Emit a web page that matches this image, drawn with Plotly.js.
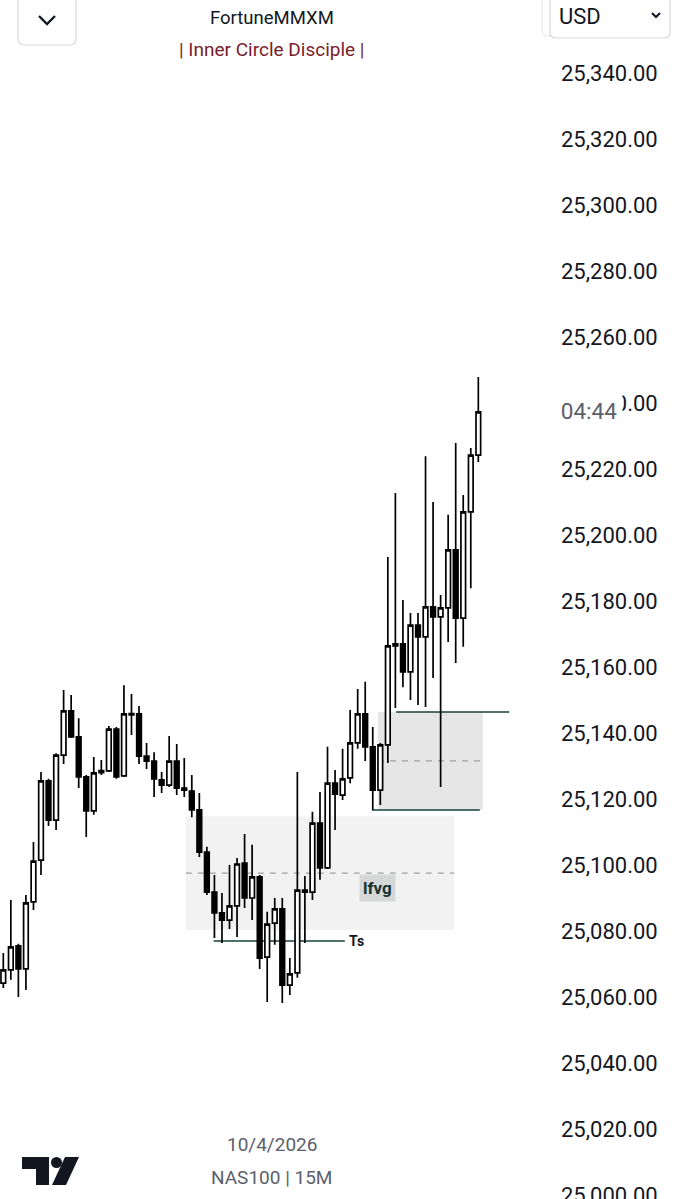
<!DOCTYPE html>
<html>
<head>
<meta charset="utf-8">
<script src="https://cdn.plot.ly/plotly-3.0.1.min.js"></script>
<style>
  html, body { margin: 0; padding: 0; background: #ffffff; }
  #chart { width: 676px; height: 1199px; }
</style>
</head>
<body>
<div id="chart"></div>
<script>
// ---- NAS100 15M candles ----
const openPrices = [
  25064.2, 25068.2, 25075.5, 25068.5, 25088.8, 25101.5, 25125.5, 25113.6, 25133.3, 25146.7,
  25138.8, 25126.7, 25116.4, 25128.0, 25128.5, 25141.2, 25127.0, 25145.5, 25145.8, 25133.0,
  25131.5, 25125.8, 25124.2, 25131.5, 25123.3, 25122.4, 25116.7, 25103.9, 25091.8, 25085.5,
  25083.3, 25087.6, 25100.6, 25090.0, 25096.4, 25072.1, 25082.4, 25086.7, 25063.6, 25067.3,
  25091.8, 25091.8, 25112.7, 25099.1, 25124.8, 25121.2, 25126.4, 25137.0, 25145.8, 25135.8,
  25122.7, 25136.4, 25166.4, 25167.0, 25158.5, 25172.7, 25169.1, 25178.2, 25175.2, 25177.9,
  25195.5, 25174.8, 25207.0, 25224.2
];
const highPrices = [
  25073.3, 25089.4, 25076.1, 25090.9, 25107.0, 25128.2, 25126.1, 25133.9, 25153.0, 25151.5,
  25144.5, 25127.3, 25132.7, 25131.8, 25142.1, 25141.8, 25154.5, 25151.8, 25148.2, 25137.0,
  25134.2, 25128.2, 25139.1, 25136.7, 25132.4, 25127.3, 25121.8, 25105.5, 25097.0, 25091.5,
  25100.0, 25102.1, 25109.4, 25106.1, 25097.0, 25085.8, 25090.0, 25090.0, 25071.8, 25128.2,
  25096.7, 25116.1, 25122.1, 25135.8, 25128.8, 25135.2, 25147.0, 25153.3, 25155.5, 25141.8,
  25137.0, 25193.3, 25212.7, 25180.3, 25176.4, 25176.4, 25223.9, 25210.0, 25181.8, 25206.1,
  25227.9, 25212.1, 25226.4, 25247.9
];
const lowPrices = [
  25062.7, 25065.2, 25060.0, 25062.1, 25086.4, 25097.0, 25111.8, 25110.6, 25130.6, 25138.5,
  25123.3, 25108.5, 25115.2, 25127.3, 25128.2, 25126.1, 25126.7, 25139.4, 25130.6, 25129.1,
  25120.6, 25121.8, 25123.6, 25121.2, 25120.6, 25114.5, 25102.4, 25090.9, 25077.9, 25076.4,
  25080.6, 25078.2, 25087.0, 25083.3, 25068.5, 25058.5, 25075.8, 25058.2, 25060.6, 25065.8,
  25076.4, 25089.4, 25095.5, 25098.8, 25110.6, 25119.7, 25124.8, 25135.2, 25131.5, 25116.7,
  25118.2, 25130.9, 25147.6, 25153.9, 25150.0, 25148.5, 25147.9, 25156.7, 25123.6, 25167.6,
  25161.2, 25166.1, 25183.9, 25222.1
];
const closePrices = [
  25068.2, 25075.2, 25068.5, 25088.5, 25101.2, 25125.5, 25113.6, 25133.3, 25146.7, 25138.8,
  25126.7, 25116.4, 25127.9, 25128.6, 25141.2, 25126.7, 25145.8, 25145.9, 25133.0, 25131.5,
  25126.1, 25124.2, 25131.5, 25123.3, 25122.7, 25116.7, 25103.9, 25091.8, 25085.5, 25083.3,
  25087.6, 25100.3, 25090.0, 25096.4, 25071.8, 25082.1, 25086.7, 25063.6, 25067.0, 25092.4,
  25092.4, 25112.7, 25099.1, 25124.8, 25121.5, 25126.1, 25137.0, 25145.8, 25135.8, 25122.7,
  25136.4, 25166.4, 25167.0, 25158.5, 25172.7, 25169.1, 25178.2, 25175.2, 25177.9, 25195.5,
  25174.8, 25207.0, 25224.2, 25237.3
];

// price axis tick values
const priceTicks = [25000, 25020, 25040, 25060, 25080, 25100, 25120, 25140, 25160, 25180,
                    25200, 25220, 25240, 25260, 25280, 25300, 25320, 25340];

// drawn levels (price)
const lfvgZone = [25080.3, 25114.8];     // lower gap zone [bottom, top]
const upperZone = [25116.7, 25146.4];    // upper zone [bottom, top]
const tsLevel = 25077.0;                 // "Ts" line

const candleIdx = openPrices.map((_, i) => i);

// ---- layout geometry helpers (pixel -> paper) ----
const W = 676, H = 1199, MR = 124;
const PW = W - MR;
const px = v => v / PW;
const py = v => 1 - v / H;

function roundRect(x0, y0, x1, y1, r) {
  const p = (x, y) => px(x) + ',' + py(y);
  return 'M' + p(x0 + r, y0) + ' L' + p(x1 - r, y0) + ' Q' + p(x1, y0) + ' ' + p(x1, y0 + r) +
         ' L' + p(x1, y1 - r) + ' Q' + p(x1, y1) + ' ' + p(x1 - r, y1) +
         ' L' + p(x0 + r, y1) + ' Q' + p(x0, y1) + ' ' + p(x0, y1 - r) +
         ' L' + p(x0, y0 + r) + ' Q' + p(x0, y0) + ' ' + p(x0 + r, y0) + ' Z';
}
function poly(pts) {
  return 'M' + pts.map(q => px(q[0]) + ',' + py(q[1])).join(' L') + ' Z';
}
function polyline(pts) {
  return 'M' + pts.map(q => px(q[0]) + ',' + py(q[1])).join(' L');
}

const candle = {
  type: 'candlestick',
  x: candleIdx,
  open: openPrices,
  high: highPrices,
  low: lowPrices,
  close: closePrices,
  increasing: { line: { color: '#000000', width: 1.7 }, fillcolor: '#ffffff' },
  decreasing: { line: { color: '#000000', width: 1.7 }, fillcolor: '#000000' },
  whiskerwidth: 0,
  hoverinfo: 'skip',
  showlegend: false
};

const teal = '#16403b';
const shapes = [
  // lower zone
  { type: 'rect', xref: 'x', yref: 'y', x0: 24.2, x1: 59.8, y0: lfvgZone[0], y1: lfvgZone[1],
    fillcolor: '#f2f2f2', line: { width: 0 }, layer: 'below' },
  { type: 'line', xref: 'x', yref: 'y', x0: 24.2, x1: 59.8,
    y0: (lfvgZone[0] + lfvgZone[1]) / 2, y1: (lfvgZone[0] + lfvgZone[1]) / 2,
    line: { color: '#a0a0a0', width: 1.3, dash: '6px,6px' }, layer: 'below' },
  // upper zone
  { type: 'rect', xref: 'x', yref: 'y', x0: 49.7, x1: 63.6, y0: upperZone[0], y1: upperZone[1],
    fillcolor: '#e6e6e6', line: { width: 0 }, layer: 'below' },
  { type: 'line', xref: 'x', yref: 'y', x0: 49.7, x1: 63.6,
    y0: (upperZone[0] + upperZone[1]) / 2, y1: (upperZone[0] + upperZone[1]) / 2,
    line: { color: '#a0a0a0', width: 1.3, dash: '6px,6px' }, layer: 'below' },
  { type: 'line', xref: 'x', yref: 'y', x0: 52.1, x1: 67.1, y0: upperZone[1], y1: upperZone[1],
    line: { color: teal, width: 1.5 }, layer: 'below' },
  { type: 'line', xref: 'x', yref: 'y', x0: 48.9, x1: 63.2, y0: upperZone[0], y1: upperZone[0],
    line: { color: teal, width: 1.5 }, layer: 'below' },
  // Ts line
  { type: 'line', xref: 'x', yref: 'y', x0: 27.9, x1: 45.3, y0: tsLevel, y1: tsLevel,
    line: { color: teal, width: 1.5 }, layer: 'below' },

  // header: collapse button
  { type: 'path', xref: 'paper', yref: 'paper', path: roundRect(18, -8, 76, 45, 6),
    fillcolor: '#ffffff', line: { color: '#d9d9d9', width: 1.2 } },
  { type: 'path', xref: 'paper', yref: 'paper', path: polyline([[39, 16], [47, 24], [55, 16]]),
    line: { color: '#131722', width: 2.4 } },
  // header: currency selector
  { type: 'path', xref: 'paper', yref: 'paper', path: roundRect(542, -8, 640, 36, 6),
    fillcolor: '#ffffff', line: { color: '#e3e3e3', width: 1 } },
  { type: 'path', xref: 'paper', yref: 'paper', path: roundRect(550, -8, 670, 38, 6),
    fillcolor: '#ffffff', line: { color: '#d9d9d9', width: 1.2 } },
  { type: 'path', xref: 'paper', yref: 'paper', path: polyline([[652, 13], [656, 17], [660, 13]]),
    line: { color: '#131722', width: 2 } },

  // TradingView logo
  { type: 'path', xref: 'paper', yref: 'paper',
    path: poly([[22, 1157], [49, 1157], [49, 1185], [36, 1185], [36, 1169], [22, 1169]]),
    fillcolor: '#131722', line: { width: 0 } },
  { type: 'circle', xref: 'paper', yref: 'paper', x0: px(51), x1: px(62), y0: py(1157), y1: py(1168),
    fillcolor: '#131722', line: { width: 0 } },
  { type: 'path', xref: 'paper', yref: 'paper',
    path: poly([[65, 1157], [79, 1157], [66, 1185], [52, 1185]]),
    fillcolor: '#131722', line: { width: 0 } }
];

const font = 'Roboto, "Noto Sans", sans-serif';
const annotations = [
  { xref: 'paper', yref: 'paper', x: px(272), y: py(18), text: 'FortuneMMXM', showarrow: false,
    font: { family: font, size: 18.5, color: '#131722' }, xanchor: 'center', yanchor: 'middle' },
  { xref: 'paper', yref: 'paper', x: px(272), y: py(50), text: '| Inner Circle Disciple |', showarrow: false,
    font: { family: font, size: 19, color: '#7a1d2c' }, xanchor: 'center', yanchor: 'middle' },
  { xref: 'paper', yref: 'paper', x: px(557), y: py(16), text: 'USD', showarrow: false,
    font: { family: font, size: 22, color: '#131722' }, xanchor: 'left', yanchor: 'middle' },
  { xref: 'paper', yref: 'paper', x: px(272), y: py(1144), text: '10/4/2026', showarrow: false,
    font: { family: font, size: 19, color: '#5d606b' }, xanchor: 'center', yanchor: 'middle' },
  { xref: 'paper', yref: 'paper', x: px(271), y: py(1177), text: 'NAS100 | 15M', showarrow: false,
    font: { family: font, size: 19, color: '#5d606b' }, xanchor: 'center', yanchor: 'middle' },
  { xref: 'paper', yref: 'paper', x: px(589), y: py(411), text: '04:44', showarrow: false,
    font: { family: font, size: 22.5, color: '#5d606b' }, xanchor: 'center', yanchor: 'middle',
    bgcolor: '#ffffff', width: 64, height: 34 },
  { xref: 'x', yref: 'y', x: 49.6, y: 25093.0, text: '<b>lfvg</b>', showarrow: false,
    font: { family: font, size: 17, color: '#17332f' }, bgcolor: '#d6d8d8', borderpad: 3,
    xanchor: 'center', yanchor: 'middle' },
  { xref: 'x', yref: 'y', x: 46.9, y: tsLevel, text: '<b>Ts</b>', showarrow: false,
    font: { family: font, size: 14, color: '#131722' }, xanchor: 'center', yanchor: 'middle' }
];

const layout = {
  width: W, height: H,
  margin: { l: 0, r: MR, t: 0, b: 0, pad: 0 },
  paper_bgcolor: '#ffffff', plot_bgcolor: '#ffffff',
  showlegend: false,
  boxgap: 0.12,
  boxgroupgap: 0.3,
  xaxis: {
    range: [-0.438, -0.438 + PW / 7.54],
    visible: false, showgrid: false, zeroline: false, fixedrange: true,
    rangeslider: { visible: false }
  },
  yaxis: {
    side: 'right',
    range: [25340 - (H - 73) / 3.3, 25340 + 73 / 3.3],
    tickvals: priceTicks,
    tickformat: ',.2f',
    showgrid: false, zeroline: false, showline: false, ticks: '',
    ticklabelstandoff: 8,
    ticklabeloverflow: 'allow',
    tickfont: { family: font, size: 22, color: '#131722' },
    fixedrange: true
  },
  shapes: shapes,
  annotations: annotations,
  hovermode: false
};

Plotly.newPlot('chart', [candle], layout, { displayModeBar: false, staticPlot: true });
</script>
</body>
</html>
